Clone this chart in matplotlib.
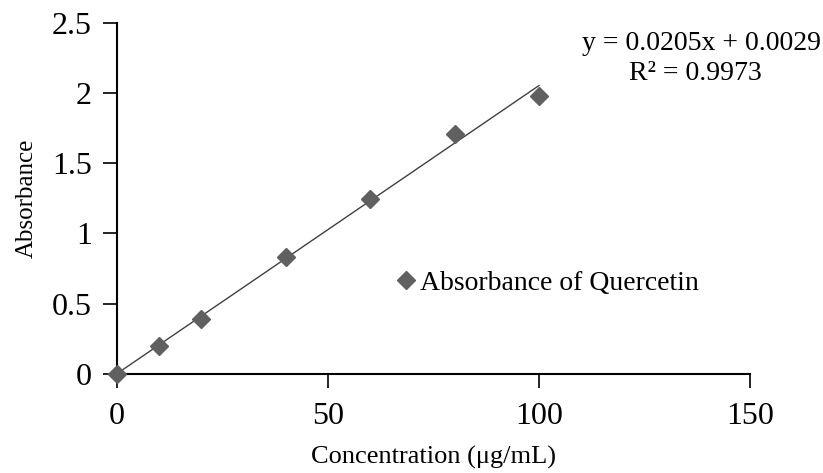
import matplotlib

matplotlib.use("Agg")
import matplotlib.pyplot as plt
import numpy as np

plt.rcParams["font.family"] = ["Liberation Serif", "DejaVu Serif"]

# data
conc = [0, 10, 20, 40, 60, 80, 100]
absorb = [0.0, 0.20, 0.39, 0.83, 1.245, 1.71, 1.975]
slope = 0.0205
intercept = 0.0029
r2 = 0.9973
x_ticks = [0, 50, 100, 150]
y_ticks = [0, 0.5, 1, 1.5, 2, 2.5]
y_tick_labels = ["0", "0.5", "1", "1.5", "2", "2.5"]

fig = plt.figure(figsize=(8.23, 4.73), dpi=100)
ax = fig.add_axes([0.1422, 0.2093, 0.7691, 0.7427])

# trendline over the data range
xt = np.array([conc[0], conc[-1]])
ax.plot(xt, slope * xt + intercept, color="#404040", linewidth=1.0, zorder=2)
ax.plot(conc, absorb, linestyle="none", marker="D", markersize=9,
        color="#606060", markeredgecolor="#606060", clip_on=False, zorder=3,
        label="Absorbance of Quercetin")

ax.set_xlim(0, 150)
ax.set_ylim(0, 2.5)
ax.set_xticks(x_ticks)
ax.set_yticks(y_ticks)
ax.set_yticklabels(y_tick_labels)
ax.tick_params(axis="both", direction="out", length=10, width=1.2,
               labelsize=23, colors="black")
ax.tick_params(axis="x", pad=10)
ax.tick_params(axis="y", pad=8)
for s in ["top", "right"]:
    ax.spines[s].set_visible(False)
for s in ["left", "bottom"]:
    ax.spines[s].set_linewidth(1.5)

ax.set_xlabel("Concentration (\u03bcg/mL)", fontsize=19, labelpad=11)
ax.set_ylabel("Absorbance", fontsize=18, labelpad=10)

ax.text(0.998, 0.908, f"y = {slope:.4f}x + {intercept:.4f}", transform=fig.transFigure,
        ha="right", va="center", fontsize=20)
ax.text(0.845, 0.845, f"R\u00b2 = {r2:.4f}", transform=fig.transFigure,
        ha="center", va="center", fontsize=20)

ax.legend(loc="center left", bbox_to_anchor=(0.483, 0.402), bbox_transform=fig.transFigure,
          frameon=False, fontsize=20, handlelength=0.6, handletextpad=0.2,
          borderaxespad=0, borderpad=0)

fig.savefig("out.png", dpi=100)
